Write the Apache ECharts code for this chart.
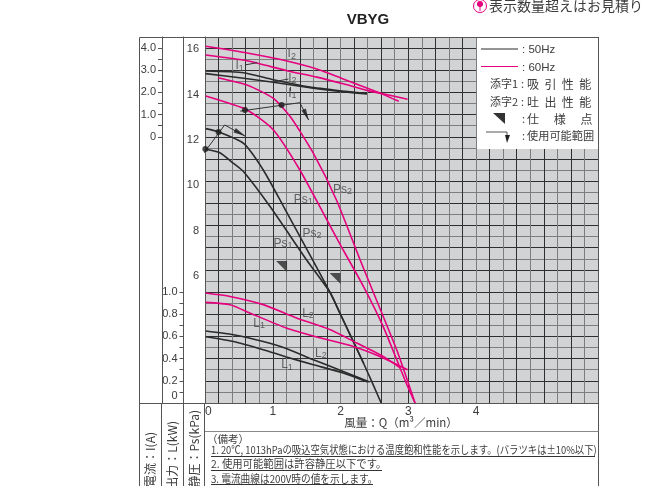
<!DOCTYPE html>
<html lang="ja">
<head>
    <meta charset="UTF-8">
    <title>VBYG</title>
    <script src="https://cdn.jsdelivr.net/npm/echarts@6/dist/echarts.min.js"></script>
    <style>
        html, body { margin: 0; padding: 0; background: #fff; overflow: hidden; }
        #chart { width: 648px; height: 486px; }
    </style>
</head>
<body>
    <div id="chart"></div>
    <script>
        // Curves as [Q, value]
        var current60_2 = [[0.01,4.08],[0.62,3.78],[1.21,3.42],[1.65,3.06],[2.04,2.61],[2.58,1.97],[2.86,1.60]];
        var current60_1 = [[0.01,3.69],[0.62,3.43],[1.21,2.98],[1.65,2.69],[2.04,2.39],[2.43,2.06],[2.58,1.97],[2.99,1.69]];
        var current50_2 = [[0.01,2.97],[0.57,2.89],[1.01,2.57],[1.55,2.24],[2.04,2.06],[2.39,1.95]];
        var current50_1 = [[0.01,2.85],[0.57,2.64],[1.01,2.46],[1.55,2.21],[2.04,2.03],[2.39,1.93]];

        var static60_2 = [[0.19,14.74],[0.62,14.42],[1.01,13.83],[1.26,13.02],[1.60,11.41],[1.94,9.36],[2.29,6.72],[2.44,5.62],[2.83,2.76],[3.10,0.43]];
        var static60_1 = [[0.01,13.93],[0.62,13.32],[1.01,12.44],[1.40,10.68],[1.80,8.48],[2.04,7.16],[2.34,5.55],[2.63,3.79],[2.97,1.30],[3.10,0.43]];
        var static50_2 = [[0.01,12.50],[0.20,12.36],[0.57,11.85],[0.86,10.68],[1.16,9.07],[1.59,6.72],[1.85,5.27],[1.99,4.39],[2.34,2.18],[2.60,0.43]];
        var static50_1 = [[0.01,11.59],[0.22,11.44],[0.42,10.97],[0.57,10.60],[0.96,9.07],[1.50,6.72],[1.85,5.27],[1.99,4.39],[2.34,2.18]];

        var power60_2 = [[0.01,0.992],[0.37,0.961],[0.86,0.887],[1.35,0.767],[1.85,0.661],[2.24,0.541],[2.63,0.42],[2.88,0.316]];
        var power60_1 = [[0.01,0.907],[0.37,0.886],[0.66,0.812],[1.20,0.676],[1.65,0.595],[2.19,0.51],[2.58,0.42],[2.99,0.30]];
        var power50_2 = [[0.01,0.649],[0.42,0.616],[0.86,0.555],[1.20,0.492],[1.60,0.39],[2.04,0.285],[2.43,0.189]];
        var power50_1 = [[0.01,0.598],[0.42,0.555],[0.86,0.481],[1.20,0.415],[1.60,0.345],[2.04,0.27],[2.40,0.189]];

        // usable range limit lines, dots and the spec points
        var limit50 = [[-0.05,11.29],[0.29,12.66],[0.59,12.17]];
        var limit60 = [[0.52,13.27],[1.40,13.64],[1.53,12.88]];
        var limitDots = [[0.005,11.6],[0.2,12.35],[0.59,13.32],[1.13,13.54]];
        var specPoints = [[1.13,6.44],[1.92,5.91]];
        var leaders = [[0.59,15.30],[0.77,15.40],'-',[1.01,14.56],[1.23,14.68],'-',[1.26,14.33],[1.26,14.15]];

        // curve names: [Q, Ps position, name, suffix]
        var curveNames = [
            [1.28,15.78,'I','2'],[0.51,15.25,'I','1'],[1.29,14.71,'I','2'],[1.29,14.05,'I','1'],
            [2.03,9.83,'Ps','2'],[1.45,9.39,'Ps','1'],[1.58,7.89,'Ps','2'],[1.15,7.46,'Ps','1'],
            [1.52,4.38,'L','2'],[0.80,3.94,'L','1'],[1.71,2.59,'L','2'],[1.21,2.10,'L','1']
        ];

        var currentTicks = [0,0.5,1,1.5,2,2.5,3,3.5,4];
        var currentLabels = [0,1,2,3,4];
        var powerTicks = [0.1,0.2,0.3,0.4,0.5,0.6,0.7,0.8,0.9,1];
        var powerLabels = [0.065,0.2,0.4,0.6,0.8,1];
        var staticLabels = [6,8,10,12,14,16];
        var flowLabels = [0,1,2,3,4];

        var notes = [
            '1. 20℃, 1013hPaの吸込空気状態における温度飽和性能を示します。(バラツキは±10%以下)',
            '2. 使用可能範囲は許容静圧以下です。',
            '3. 電流曲線は200V時の値を示します。'
        ];

        var PINK = '#e6007e', BLACK = '#2b2b2b', TEXT = '#3c3c3c', FRAME = '#555';
        var SANS = '"Liberation Sans",sans-serif';
        var CJK = '"Noto Sans CJK JP",sans-serif';

        function curve(data, color, axis) {
            return {
                type: 'line', data: data, yAxisIndex: axis, smooth: 0.2, showSymbol: false, silent: true,
                lineStyle: { color: color, width: 1.6 }, z: 5
            };
        }

        function valueAxis(min, max, offset, labels, ticks, fmt) {
            return {
                type: 'value', position: 'left', min: min, max: max, offset: offset,
                axisLine: { show: true, onZero: false, lineStyle: { color: FRAME } },
                axisTick: { show: !!ticks, length: 4, customValues: ticks || undefined, lineStyle: { color: FRAME } },
                axisLabel: { customValues: labels, formatter: fmt, margin: 6, fontFamily: SANS, fontSize: 11, color: TEXT },
                splitLine: { show: false }
            };
        }

        function seg(x1, y1, x2, y2, color) {
            return { type: 'line', shape: { x1: x1, y1: y1, x2: x2, y2: y2 }, style: { stroke: color || FRAME, lineWidth: 1 }, z: 20 };
        }
        function txt(x, y, text, size, align, family, color) {
            return { type: 'text', x: x, y: y, z: 21, style: { text: text, fontSize: size, fontFamily: family || CJK, fill: color || TEXT, textAlign: align || 'left', textVerticalAlign: 'middle' } };
        }
        function vtxt(x, y, text) {
            return { type: 'text', x: x, y: y, rotation: Math.PI / 2, z: 21, style: { text: text, fontSize: 12, fontFamily: CJK, fill: TEXT, textAlign: 'right', textVerticalAlign: 'middle' } };
        }

        var heading = txt(368,20,'VBYG',15,'center',SANS,'#222');
        heading.style.fontWeight = 'bold';

        var graphics = [
            // frame
            seg(139.5,37.5,598.5,37.5), seg(139.5,37.5,139.5,486), seg(161.5,403,161.5,486), seg(183.5,403,183.5,486),
            seg(204.5,403,204.5,486), seg(598.5,37.5,598.5,486), seg(139.5,403.5,598.5,403.5),
            seg(205,431.5,598.5,431.5,'#888'),
            vtxt(150,432,'電流：I(A)'), vtxt(172,421,'出力：L(kW)'), vtxt(194,410,'静圧：Ps(kPa)'),
            txt(401,423,'風量：Q（m³／min）',11.5,'center'),
            txt(207,439,'（備考）',10.5),
            Object.assign(txt(211,450,notes[0],11), { scaleX: 0.85 }),
            Object.assign(txt(211,464,notes[1],11), { scaleX: 0.94 }),
            Object.assign(txt(211,479,notes[2],11), { scaleX: 0.88 }),
            seg(211,456.5,595,456.5,'#333'), seg(211,470.5,382,470.5,'#333'), seg(211,484.5,373,484.5,'#333'),
            // key box
            { type: 'rect', shape: { x: 477, y: 38, width: 121, height: 111 }, style: { fill: '#fff' }, z: 10 },
            seg(481,49,518,49,BLACK), seg(481,66.5,518,66.5,PINK),
            txt(522,50,': 50Hz',11.5,'left',SANS), txt(522,67.5,': 60Hz',11.5,'left',SANS),
            txt(518,84,'添字1',11,'right'), txt(521,84,':',11), txt(527,84,'吸  引  性  能',12),
            txt(518,102,'添字2',11,'right'), txt(521,102,':',11), txt(527,102,'吐  出  性  能',12),
            txt(522,119,':',11), txt(527,119,'仕　 様　 点',12),
            { type: 'polygon', shape: { points: [[493,113],[505,113],[505,124]] }, style: { fill: '#333' }, z: 20 },
            txt(522,136,':',11), txt(527,136,'使用可能範囲',11.2),
            { type: 'polyline', shape: { points: [[486,132],[507,132],[507,136]] }, style: { stroke: '#555', fill: null, lineWidth: 1 }, z: 20 },
            { type: 'polygon', shape: { points: [[505,135],[510,135],[507,143]] }, style: { fill: '#222' }, z: 20 },
            // heading and the note at top right
            heading,
            { type: 'circle', shape: { cx: 480, cy: 6, r: 6.5 }, style: { fill: '#fff', stroke: PINK, lineWidth: 1 }, z: 20 },
            { type: 'circle', shape: { cx: 480, cy: 4, r: 3 }, style: { fill: PINK }, z: 21 },
            seg(480,6,480,11,PINK),
            txt(489,6,'表示数量超えはお見積り',14)
        ];

        var chart = echarts.init(document.getElementById('chart'), null, { renderer: 'canvas' });

        chart.setOption({
            animation: false,
            backgroundColor: '#fff',
            grid: { left: 205, right: 50, top: 37, bottom: 83, show: true, backgroundColor: '#d1d3d4', borderWidth: 0 },
            xAxis: {
                type: 'value', min: 0, max: 5.8, interval: 0.2,
                axisLine: { show: false }, axisTick: { show: false },
                axisLabel: {
                    margin: 3, fontFamily: SANS, fontSize: 12, color: TEXT, alignMinLabel: 'left',
                    formatter: function (v) { var n = Math.round(v); return Math.abs(v - n) < 0.001 && flowLabels.indexOf(n) >= 0 ? String(n) : ''; }
                },
                splitLine: { show: true, lineStyle: { color: ['#7d7d7d', '#2f2f2f'], width: 1 } }
            },
            yAxis: [
                valueAxis(-12, 4.5, 43, currentLabels, currentTicks, function (v) { return v === 0 ? '0' : Number(v).toFixed(1); }),
                valueAxis(0, 3.3, 21.5, powerLabels, powerTicks, function (v) { return v < 0.1 ? '0' : Number(v).toFixed(1); }),
                valueAxis(0.43, 16.53, 0, staticLabels, null, function (v) { return String(v); }),
                // cell lines of the paper
                {
                    type: 'value', position: 'right', min: 0, max: 33, interval: 1,
                    axisLine: { show: false }, axisTick: { show: false }, axisLabel: { show: false },
                    splitLine: { show: true, lineStyle: { color: ['#2f2f2f', '#7d7d7d'], width: 1 } }
                }
            ],
            graphic: graphics,
            series: [
                curve(current50_2, BLACK, 0), curve(current50_1, BLACK, 0),
                curve(current60_2, PINK, 0), curve(current60_1, PINK, 0),
                curve(static50_2, BLACK, 2), curve(static50_1, BLACK, 2),
                curve(static60_2, PINK, 2), curve(static60_1, PINK, 2),
                curve(power50_2, BLACK, 1), curve(power50_1, BLACK, 1),
                curve(power60_2, PINK, 1), curve(power60_1, PINK, 1),
                {
                    type: 'line', yAxisIndex: 2, showSymbol: false, clip: false, silent: true, z: 6,
                    data: limit50, lineStyle: { color: '#333', width: 1 }
                },
                {
                    type: 'line', yAxisIndex: 2, showSymbol: false, clip: false, silent: true, z: 6,
                    data: limit60, lineStyle: { color: '#333', width: 1 }
                },
                {
                    type: 'line', yAxisIndex: 2, showSymbol: false, silent: true, z: 6, connectNulls: false,
                    data: leaders, lineStyle: { color: '#333', width: 1 }
                },
                {
                    type: 'scatter', yAxisIndex: 2, data: limitDots, symbol: 'circle', symbolSize: 6, silent: true, z: 7,
                    itemStyle: { color: '#1a1a1a' }
                },
                {
                    type: 'scatter', yAxisIndex: 2, silent: true, z: 7, symbol: 'triangle', symbolSize: [5, 12],
                    data: [
                        { value: limit50[2], symbolRotate: -118, symbolOffset: [-5, -3] },
                        { value: limit60[2], symbolRotate: -155, symbolOffset: [-2.5, -5] }
                    ],
                    itemStyle: { color: '#1a1a1a' }
                },
                {
                    type: 'scatter', yAxisIndex: 2, data: specPoints, silent: true, z: 7,
                    symbol: 'path://M0 0L10 0L10 10Z', symbolSize: 11, itemStyle: { color: '#2a2a2a' }
                },
                {
                    type: 'scatter', yAxisIndex: 2, data: curveNames, symbolSize: 0, silent: true, z: 8,
                    label: {
                        show: true, position: 'inside',
                        formatter: function (p) { return '{n|' + p.data[2] + '}{s|' + p.data[3] + '}'; },
                        rich: {
                            n: { fontFamily: SANS, fontSize: 12, color: '#444' },
                            s: { fontFamily: SANS, fontSize: 9, color: '#444', verticalAlign: 'bottom', padding: [4, 0, 0, 0] }
                        }
                    }
                }
            ]
        });
    </script>
</body>
</html>
